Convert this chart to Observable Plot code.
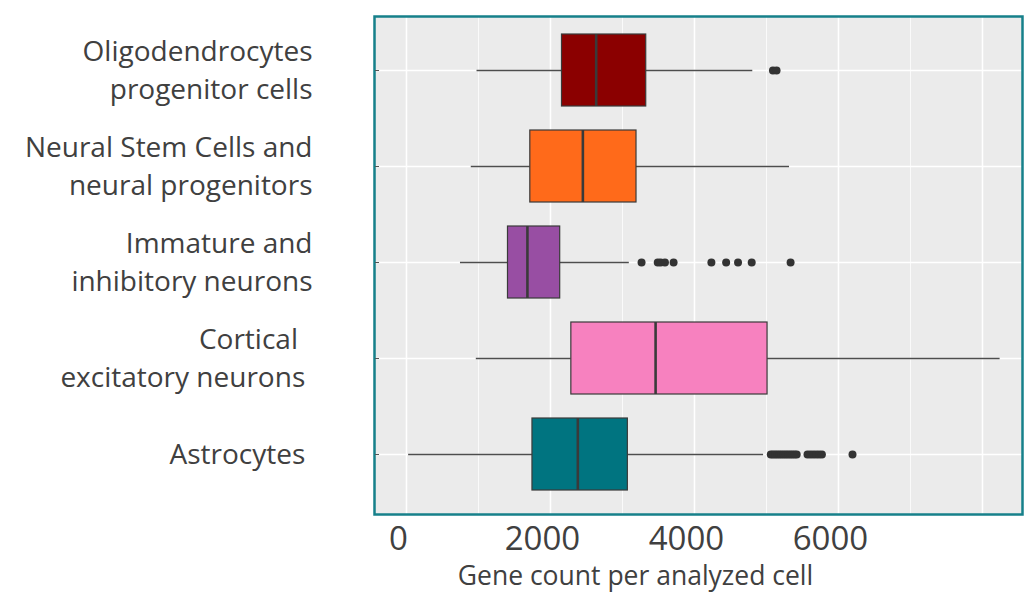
<!DOCTYPE html>
<html>
<head>
<meta charset="utf-8">
<script src="https://cdn.jsdelivr.net/npm/d3@7"></script>
<script src="https://cdn.jsdelivr.net/npm/@observablehq/plot@0.6"></script>
<style>
  html, body { margin: 0; padding: 0; background: #ffffff; }
  #chart svg { display: block; }
  .catlabel text { white-space: pre; }
</style>
</head>
<body>
<div id="chart"></div>
<script>
// ---- data ----
const categories = [
  "Oligodendrocytes progenitor cells",
  "Neural Stem Cells and neural progenitors",
  "Immature and inhibitory neurons",
  "Cortical excitatory neurons",
  "Astrocytes"
];
const categoryLabels = [
  "Oligodendrocytes\nprogenitor cells",
  "Neural Stem Cells and\nneural progenitors",
  "Immature and\ninhibitory neurons",
  "Cortical  \nexcitatory neurons ",
  "Astrocytes "
];
const whiskerLow  = [ 980,  900,  750,  970,   30];
const q1          = [2160, 1720, 1410, 2290, 1750];
const median      = [2635, 2450, 1680, 3460, 2380];
const q3          = [3330, 3195, 2135, 5015, 3075];
const whiskerHigh = [4810, 5320, 3095, 8245, 4960];
const boxColors   = ["#8b0000", "#ff6a1a", "#984ea3", "#f781bf", "#007480"];

const outliersOligo    = [5090, 5140];
const outliersNSC      = [];
const outliersImmature = [3265, 3490, 3530, 3590, 3710, 4235, 4440, 4605, 4795, 5335];
const outliersCortical = [];
const outliersAstro    = [5060, 5090, 5120, 5150, 5180, 5210, 5240, 5270, 5300, 5330,
                          5360, 5390, 5420, 5570, 5610, 5650, 5690, 5730, 5770, 6195];

const xTickValues = [0, 2000, 4000, 6000];
const xMajorGrid  = [0, 2000, 4000, 6000, 8000];
const xMinorGrid  = [1000, 3000, 5000, 7000];
const xTitle = "Gene count per analyzed cell";

// ---- build tables ----
const boxes = categories.map((c, i) => ({
  cat: c, lo: whiskerLow[i], q1: q1[i], med: median[i], q3: q3[i], hi: whiskerHigh[i], color: boxColors[i]
}));
const outlierLists = [outliersOligo, outliersNSC, outliersImmature, outliersCortical, outliersAstro];
const outliers = outlierLists.flatMap((arr, i) => arr.map(v => ({cat: categories[i], v})));

const font = "'Open Sans', 'DejaVu Sans', sans-serif";
const textColor = "#404040";

const chart = Plot.plot({
  width: 1030,
  height: 593,
  marginLeft: 374,
  marginRight: 8,
  marginTop: 16,
  marginBottom: 79,
  style: {fontFamily: font, background: "#ffffff", color: textColor},
  x: {domain: [-444, 8556]},
  y: {type: "band", domain: categories, paddingInner: 0.25, paddingOuter: 0.212, align: 0.44},
  marks: [
    Plot.frame({fill: "#ebebeb", stroke: "none"}),
    Plot.ruleX(xMinorGrid, {stroke: "#ffffff", strokeWidth: 0.8}),
    Plot.ruleX(xMajorGrid, {stroke: "#ffffff", strokeWidth: 1.6}),
    Plot.ruleY(categories, {y: d => d, stroke: "#ffffff", strokeWidth: 1.6}),
    // whiskers
    Plot.ruleY(boxes, {y: "cat", x1: "lo", x2: "q1", stroke: "#4d4d4d", strokeWidth: 1.7}),
    Plot.ruleY(boxes, {y: "cat", x1: "q3", x2: "hi", stroke: "#4d4d4d", strokeWidth: 1.7}),
    // boxes
    Plot.barX(boxes, {y: "cat", x1: "q1", x2: "q3", fill: "color", stroke: "#3a3a3a", strokeWidth: 1.2}),
    Plot.tickX(boxes, {y: "cat", x: "med", stroke: "#3a3a3a", strokeWidth: 2.6}),
    // outliers
    Plot.dot(outliers, {y: "cat", x: "v", r: 4, fill: "#333333", stroke: "none"}),
    Plot.frame({stroke: "#16808a", strokeWidth: 2.5}),
    // y axis ticks and labels
    Plot.axisY({tickSize: 4, dx: 5, tickFormat: null, label: null, stroke: "#555555"}),
    Plot.text(categories, {
      y: d => d,
      text: (d, i) => categoryLabels[i],
      frameAnchor: "left",
      textAnchor: "end",
      dx: -62,
      dy: -3,
      fontSize: 28,
      lineHeight: 1.36,
      fill: textColor,
      className: "catlabel"
    }),
    // x axis labels
    Plot.axisX({ticks: xTickValues, tickSize: 0, tickPadding: 12, dx: -8, fontSize: 33, label: null, tickFormat: d => String(d), fill: textColor}),
    Plot.text([xTitle], {
      text: d => d,
      frameAnchor: "bottom",
      lineAnchor: "bottom",
      dy: 70,
      dx: -63,
      fontSize: 26.5,
      fill: textColor
    })
  ]
});
document.getElementById("chart").appendChild(chart);
</script>
</body>
</html>
